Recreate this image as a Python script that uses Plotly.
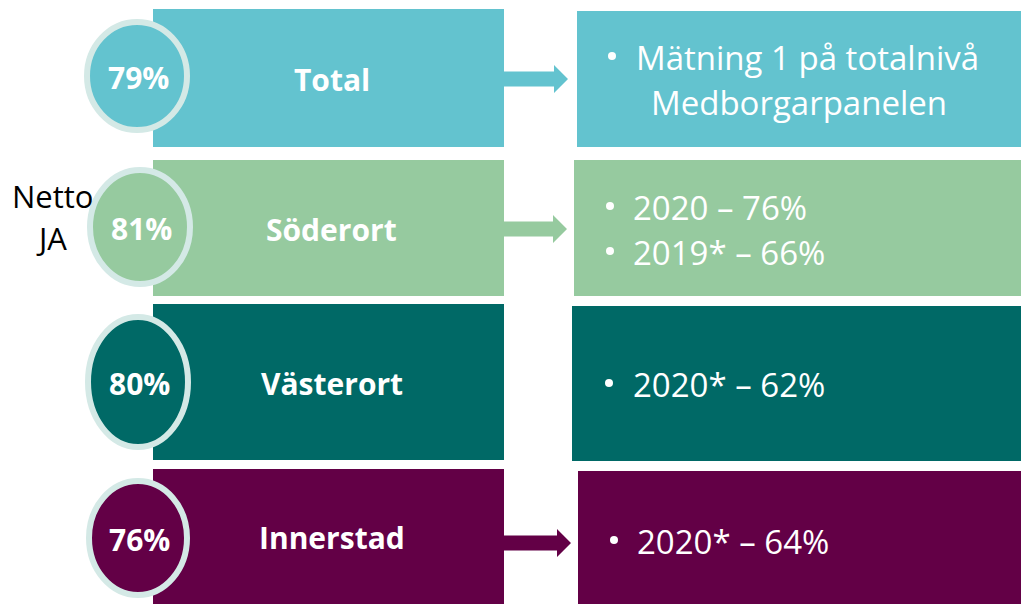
import plotly.graph_objects as go

# data
areas = ["Total", "Söderort", "Västerort", "Innerstad"]
netto_ja = [79, 81, 80, 76]
notes = [
    ["Mätning 1 på totalnivå", " Medborgarpanelen"],
    ["2020 – 76%", "2019* – 66%"],
    ["2020* – 62%"],
    ["2020* – 64%"],
]
has_arrow = [True, True, False, True]

# styling / layout
colors = ["#63C3CF", "#96CA9F", "#006966", "#630046"]
ring_color = "#D4E9E6"
W, H = 1029, 604
PAD = 8  # page body margin
FONT = "Open Sans"

box_top = [9, 160, 304, 469]
box_bot = [147, 296, 460, 604]
box_x0, box_x1 = 153, 504
note_x0 = [577, 574, 572, 578]
note_top = [11, 160, 306, 471]
note_bot = [147, 296, 461, 604]
circ_cx = [137, 140, 138, 138]
circ_cy = [76, 227, 382, 538]
circ_rx = [53, 53, 53, 52]
circ_ry = [57, 60, 68, 60]
arrow_cy = [79, 229, None, 543]
arrow_tip = [568, 567, None, 571]
bullet_x = [612, 610, 609, 614]
text_x = [634, 631, 631, 635]
line_y = [[57, 102], [207, 252], [384], [541]]

fig = go.Figure()
fig.add_trace(go.Scatter(x=[PAD, W], y=[PAD, H], mode="markers",
                         marker=dict(opacity=0), hoverinfo="skip", showlegend=False))

shapes = []
annotations = []
bx, by = [], []
for i, name in enumerate(areas):
    c = colors[i]
    shapes.append(dict(type="rect", x0=box_x0, x1=box_x1, y0=box_top[i], y1=box_bot[i],
                       fillcolor=c, line=dict(width=0), layer="below"))
    shapes.append(dict(type="rect", x0=note_x0[i], x1=W + 5, y0=note_top[i], y1=note_bot[i] + 5 * (i == 3),
                       fillcolor=c, line=dict(width=0), layer="below"))
    if has_arrow[i]:
        cy = arrow_cy[i]
        tip = arrow_tip[i]
        sx = tip - 14
        path = (f"M {box_x1} {cy-7.5} L {sx} {cy-7.5} L {sx} {cy-14} L {tip} {cy} "
                f"L {sx} {cy+14} L {sx} {cy+7.5} L {box_x1} {cy+7.5} Z")
        shapes.append(dict(type="path", path=path, fillcolor=c, line=dict(width=0), layer="below"))
    shapes.append(dict(type="circle",
                       x0=circ_cx[i] - circ_rx[i] + 3, x1=circ_cx[i] + circ_rx[i] - 3,
                       y0=circ_cy[i] - circ_ry[i] + 3, y1=circ_cy[i] + circ_ry[i] - 3,
                       fillcolor=c, line=dict(color=ring_color, width=6), layer="below"))

    annotations.append(dict(x=circ_cx[i] + 1, y=circ_cy[i] + 1, text=f"<b>{netto_ja[i]}%</b>",
                            showarrow=False, font=dict(family=FONT, size=30, color="white"),
                            xanchor="center", yanchor="middle"))
    annotations.append(dict(x=(box_x0 + box_x1) / 2 + 3, y=(box_top[i] + box_bot[i]) / 2 + 1,
                            text=f"<b>{name}</b>", showarrow=False,
                            font=dict(family=FONT, size=30, color="white"),
                            xanchor="center", yanchor="middle"))
    for j, line in enumerate(notes[i]):
        if not line.startswith(" "):
            bx.append(bullet_x[i])
            by.append(line_y[i][j] - 1)
        annotations.append(dict(x=text_x[i] + (15 if line.startswith(" ") else 0), y=line_y[i][j],
                                text=line.strip(), showarrow=False,
                                font=dict(family=FONT, size=33, color="white"),
                                xanchor="left", yanchor="middle"))

# bullet points
fig.add_trace(go.Scatter(x=bx, y=by, mode="markers",
                         marker=dict(size=8, color="white", line=dict(width=0)),
                         hoverinfo="skip", showlegend=False))

annotations.append(dict(x=53, y=196, text="Netto", showarrow=False,
                        font=dict(family=FONT, size=31, color="black"),
                        xanchor="center", yanchor="middle"))
annotations.append(dict(x=51, y=238, text="JA", showarrow=False,
                        font=dict(family=FONT, size=31, color="black"),
                        xanchor="center", yanchor="middle"))

fig.update_layout(
    width=W - PAD, height=H - PAD,
    margin=dict(l=0, r=0, t=0, b=0),
    paper_bgcolor="white", plot_bgcolor="white",
    xaxis=dict(range=[PAD, W], visible=False, fixedrange=True),
    yaxis=dict(range=[H, PAD], visible=False, fixedrange=True),
    shapes=shapes, annotations=annotations,
    showlegend=False,
)

fig.write_html("out.html")
